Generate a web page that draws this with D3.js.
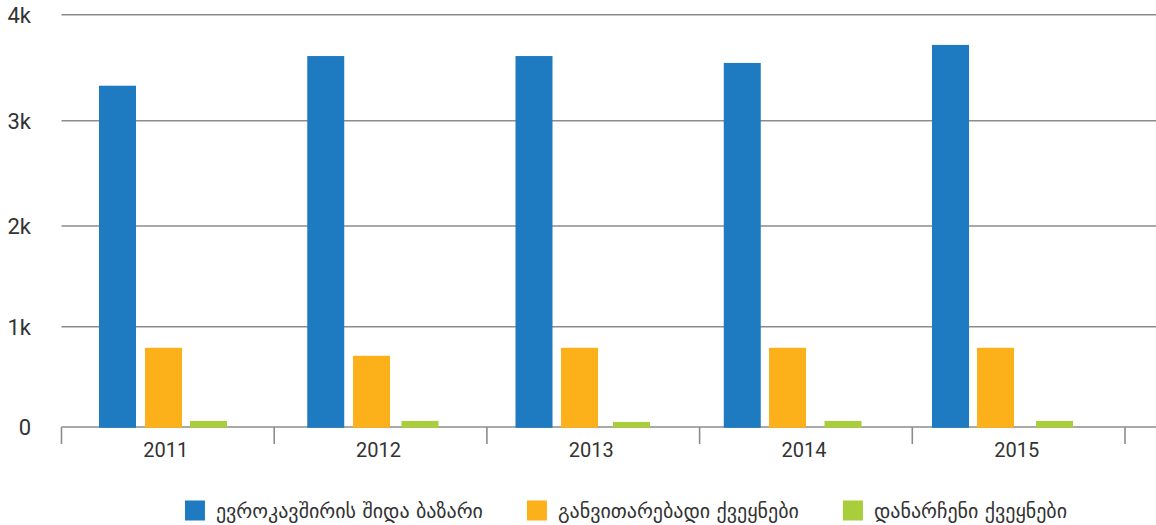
<!DOCTYPE html>
<html lang="ka">
<head>
  <meta charset="UTF-8" />
  <title>Export by destination</title>
  <script src="https://d3js.org/d3.v7.min.js"></script>
  <style>
    body { margin: 0; background: #fff; }
    svg { display: block; }
    .ylabel, .xlabel { font-family: Roboto, "DejaVu Sans", sans-serif; fill: #333; }
    .ylabel { font-size: 22px; text-anchor: end; }
    .xlabel { font-size: 20px; text-anchor: middle; }
    .legend text { font-family: "DejaVu Sans", sans-serif; font-size: 20px; fill: #333; }
    .grid { stroke: #8c8c8c; stroke-width: 1.6px; }
  </style>
</head>
<body>
  <svg id="chart" width="1156" height="525"></svg>

  <script>
    // data
    const years = ["2011", "2012", "2013", "2014", "2015"];
    const seriesNames = ["ევროკავშირის შიდა ბაზარი", "განვითარებადი ქვეყნები", "დანარჩენი ქვეყნები"];
    const euMarket = [3330, 3610, 3610, 3545, 3715];
    const developing = [790, 710, 790, 790, 790];
    const otherCountries = [60, 60, 50, 60, 60];
    const yTicks = [0, 1000, 2000, 3000, 4000];
    const yTickLabels = ["0", "1k", "2k", "3k", "4k"];
    const colors = ["#1f7bc1", "#fcb01a", "#a8ce3b"];

    const seriesValues = [euMarket, developing, otherCountries];

    const svg = d3.select("#chart");
    const width = 1156;

    // the reference gridlines are not evenly spaced, so follow them piece by piece
    const y = d3.scaleLinear().domain(yTicks).range([427, 326.7, 226, 120.7, 14.7]);

    // axis categories (ticks + labels)
    const xAxis = d3.scaleBand().domain(years).range([61.5, 1125]);
    // each series drifts a little differently across the groups in the reference
    const xSeries = [
      d3.scalePoint().domain(years).range([99, 932]),
      d3.scalePoint().domain(years).range([145, 977]),
      d3.scalePoint().domain(years).range([190, 1036])
    ];
    const barWidth = 37;

    // gridlines
    svg.selectAll(".grid")
      .data(yTicks)
      .enter()
      .append("line")
      .attr("class", "grid")
      .attr("x1", 61.5)
      .attr("x2", width)
      .attr("y1", d => y(d))
      .attr("y2", d => y(d));

    // y labels
    svg.selectAll(".ylabel")
      .data(yTicks)
      .enter()
      .append("text")
      .attr("class", "ylabel")
      .attr("x", 31)
      .attr("y", d => y(d))
      .attr("dy", "0.36em")
      .text((d, i) => yTickLabels[i]);

    // x ticks at band edges
    const tickPositions = years.map(d => xAxis(d)).concat([xAxis.range()[1]]);
    svg.selectAll(".xtick")
      .data(tickPositions)
      .enter()
      .append("line")
      .attr("class", "grid")
      .attr("x1", d => d)
      .attr("x2", d => d)
      .attr("y1", y(0))
      .attr("y2", y(0) + 17);

    svg.selectAll(".xlabel")
      .data(years)
      .enter()
      .append("text")
      .attr("class", "xlabel")
      .attr("x", d => xAxis(d) + xAxis.bandwidth() / 2 - 2)
      .attr("y", 457)
      .text(d => d);

    // bars
    const bars = [];
    years.forEach((yr, i) => {
      seriesValues.forEach((vals, s) => bars.push({ year: yr, s: s, v: vals[i] }));
    });

    svg.selectAll(".bar")
      .data(bars)
      .enter()
      .append("rect")
      .attr("class", "bar")
      .attr("x", d => xSeries[d.s](d.year))
      .attr("width", barWidth)
      .attr("y", d => y(d.v))
      .attr("height", d => y(0) - y(d.v) + 0.8)
      .attr("fill", d => colors[d.s]);

    // legend
    const legend = svg.append("g").attr("class", "legend");
    let lx = 0;
    seriesNames.forEach((name, i) => {
      const g = legend.append("g").attr("transform", `translate(${lx},0)`);
      g.append("rect").attr("width", 20).attr("height", 20).attr("fill", colors[i]);
      const t = g.append("text").attr("x", 31).attr("y", 17).text(name);
      lx += 31 + t.node().getComputedTextLength() + 44;
    });
    const legendWidth = lx - 44;
    legend.attr("transform", `translate(${626 - legendWidth / 2},500.5)`);
  </script>
</body>
</html>
